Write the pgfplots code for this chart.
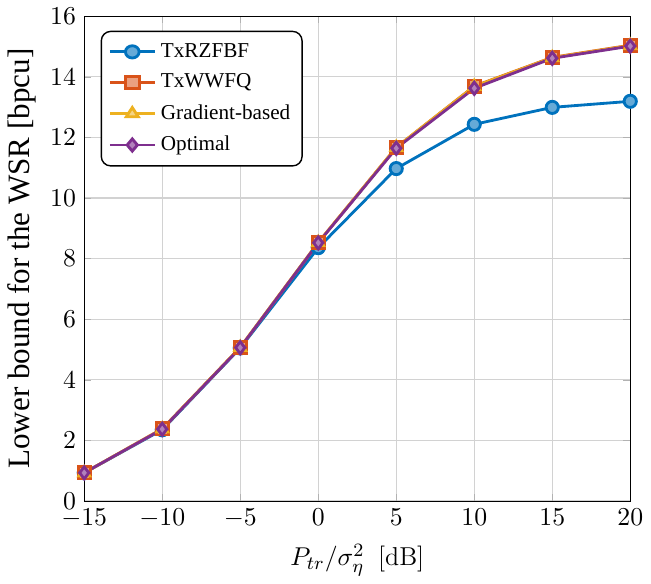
\documentclass[border=0pt]{standalone}
\usepackage{pgfplots}
\pgfplotsset{compat=1.18}
\usepackage{fontspec}
\setmainfont{Liberation Serif}

\definecolor{cblue}{RGB}{0,114,189}
\definecolor{corange}{RGB}{217,83,25}
\definecolor{cyellow}{RGB}{237,177,32}
\definecolor{cpurple}{RGB}{126,47,142}

\begin{document}
\begin{tikzpicture}
\begin{axis}[
    scale only axis,
    width=232pt, height=206pt,
    xmin=-15, xmax=20, ymin=0, ymax=16,
    xtick={-15,-10,...,20},
    ytick={0,2,...,16},
    tick label style={font=\fontsize{11}{13}\selectfont},
    grid=major,
    grid style={gray!35, line width=0.5pt},
    tick style={gray!60},
    major tick length=3pt,
    tick align=inside,
    axis line style={black},
    xlabel={$P_{tr}/\sigma_\eta^2\;$ {\fontfamily{lmr}\selectfont [dB]}},
    xlabel style={font=\fontsize{11}{13}\selectfont},
    ylabel={Lower bound for the WSR [bpcu]},
    ylabel style={font=\fontsize{13.2}{15}\selectfont, yshift=-1pt},
    legend style={at={(0.03,0.97)}, anchor=north west, rounded corners=4pt,
        draw=black, line width=0.6pt, font=\fontsize{9}{11}\selectfont, row sep=1.6pt,
        inner xsep=3pt, inner ysep=3pt},
    legend image post style={xscale=1.12},
    legend cell align=left,
    every axis plot/.append style={line width=1.2pt, mark size=2.6pt},
]
\addplot[cblue, mark=*, mark options={fill=cblue!60!white}] coordinates {
(-15,0.93) (-10,2.35) (-5,5.05) (0,8.36) (5,10.97) (10,12.43) (15,12.99) (20,13.19)};
\addlegendentry{TxRZFBF}
\addplot[corange, mark=square*, mark options={fill=corange!55!white}] coordinates {
(-15,0.93) (-10,2.38) (-5,5.07) (0,8.53) (5,11.67) (10,13.69) (15,14.64) (20,15.04)};
\addlegendentry{TxWWFQ}
\addplot[cyellow, mark=triangle*, mark options={fill=cyellow!55!white}] coordinates {
(-15,0.93) (-10,2.38) (-5,5.07) (0,8.53) (5,11.67) (10,13.68) (15,14.63) (20,15.03)};
\addlegendentry{Gradient-based}
\addplot[cpurple, mark=diamond*, mark options={fill=cpurple!60!white}] coordinates {
(-15,0.93) (-10,2.37) (-5,5.06) (0,8.52) (5,11.64) (10,13.62) (15,14.61) (20,15.01)};
\addlegendentry{Optimal}
\end{axis}
\end{tikzpicture}
\end{document}
